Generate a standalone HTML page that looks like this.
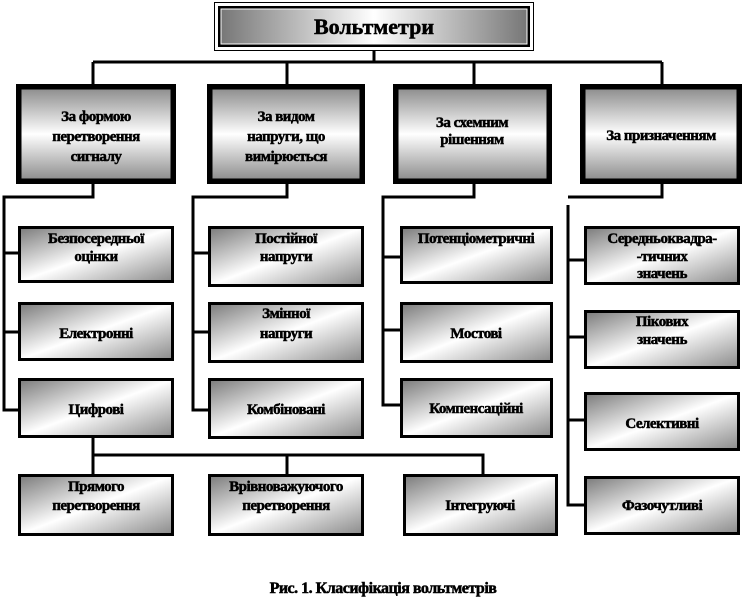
<!DOCTYPE html>
<html><head><meta charset="utf-8"><style>
html,body{margin:0;padding:0;background:#fff;width:744px;height:610px;overflow:hidden}
text{font-family:"Liberation Serif",serif;font-weight:bold;font-size:15px;fill:#000;stroke:#000;stroke-width:0.5;text-anchor:middle;letter-spacing:-0.5px}
</style></head><body>
<svg width="744" height="610" viewBox="0 0 744 610" xmlns="http://www.w3.org/2000/svg">
<defs>
<linearGradient id="g" x1="0" y1="0" x2="1" y2="1">
<stop offset="0" stop-color="#7a7a7a"/><stop offset="0.5" stop-color="#ffffff"/><stop offset="1" stop-color="#8a8a8a"/>
</linearGradient>
<linearGradient id="gc" x1="0" y1="0" x2="0" y2="1">
<stop offset="0" stop-color="#8a8a8a"/><stop offset="0.5" stop-color="#ffffff"/><stop offset="1" stop-color="#8a8a8a"/>
</linearGradient>
<linearGradient id="gt" x1="0" y1="0" x2="1" y2="0">
<stop offset="0" stop-color="#777"/><stop offset="0.5" stop-color="#fff"/><stop offset="1" stop-color="#777"/>
</linearGradient>
</defs>
<g stroke="#000" stroke-width="3" fill="none">
<line x1="374" y1="50" x2="374" y2="62"/>
<line x1="93" y1="62" x2="662" y2="62"/>
<line x1="93" y1="62" x2="93" y2="84"/><line x1="287" y1="62" x2="287" y2="84"/>
<line x1="474" y1="62" x2="474" y2="84"/><line x1="662" y1="62" x2="662" y2="84"/>
<polyline points="93,183 93,197 4,197 4,410 18,410"/>
<line x1="4" y1="253" x2="18" y2="253"/><line x1="4" y1="332" x2="18" y2="332"/>
<polyline points="287,183 287,197 193,197 193,410 208,410"/>
<line x1="193" y1="253" x2="208" y2="253"/><line x1="193" y1="332" x2="208" y2="332"/>
<polyline points="474,183 474,197 383,197 383,405 400,405"/>
<line x1="383" y1="257" x2="400" y2="257"/><line x1="383" y1="330" x2="400" y2="330"/>
<polyline points="662,183 662,197 568,197"/>
<polyline points="568,205 568,505 584,505"/>
<line x1="568" y1="260" x2="584" y2="260"/><line x1="568" y1="337" x2="584" y2="337"/><line x1="568" y1="420" x2="584" y2="420"/>
<line x1="93" y1="437" x2="93" y2="474"/>
<polyline points="93,455 483,455 483,474"/>
<line x1="287" y1="455" x2="287" y2="474"/>
</g>
<rect x="214.5" y="2.5" width="319" height="48" fill="#fff" stroke="#000" stroke-width="1"/>
<rect x="218" y="6" width="312" height="41" fill="#000"/>
<rect x="221" y="9" width="306" height="35" fill="url(#gt)" stroke="#fff" stroke-width="1"/>
<text x="374" y="34" style="font-size:22px;letter-spacing:0">Вольтметри</text>
<g>
<rect x="16.5" y="84.5" width="159" height="99" fill="#fff" stroke="#000"/>
<rect x="19" y="87" width="154" height="94" fill="url(#gc)" stroke="#000" stroke-width="5"/>
<rect x="207.5" y="84.5" width="157" height="99" fill="#fff" stroke="#000"/>
<rect x="210" y="87" width="152" height="94" fill="url(#gc)" stroke="#000" stroke-width="5"/>
<rect x="393.5" y="84.5" width="158" height="99" fill="#fff" stroke="#000"/>
<rect x="396" y="87" width="153" height="94" fill="url(#gc)" stroke="#000" stroke-width="5"/>
<rect x="580.5" y="84.5" width="161" height="99" fill="#fff" stroke="#000"/>
<rect x="583" y="87" width="156" height="94" fill="url(#gc)" stroke="#000" stroke-width="5"/>
</g>
<text x="96" y="121">За формою</text><text x="96" y="141">перетворення</text><text x="96" y="161">сигналу</text>
<text x="286" y="121">За видом</text><text x="286" y="141">напруги, що</text><text x="286" y="161">вимірюється</text>
<text x="472" y="127">За схемним</text><text x="472" y="144">рішенням</text>
<text x="661" y="140">За призначенням</text>
<g fill="url(#g)" stroke="#000" stroke-width="3">
<rect x="19.5" y="227.5" width="153" height="54"/>
<rect x="19.5" y="303.5" width="153" height="56"/>
<rect x="19.5" y="379.5" width="153" height="57"/>
<rect x="209.5" y="227.5" width="153" height="58"/>
<rect x="209.5" y="303.5" width="153" height="58"/>
<rect x="209.5" y="379.5" width="153" height="58"/>
<rect x="401.5" y="227.5" width="150" height="55"/>
<rect x="401.5" y="303.5" width="150" height="58"/>
<rect x="401.5" y="379.5" width="150" height="57"/>
<rect x="585.5" y="227.5" width="153" height="56"/>
<rect x="585.5" y="311.5" width="153" height="56"/>
<rect x="585.5" y="393.5" width="153" height="56"/>
<rect x="585.5" y="477.5" width="153" height="56"/>
<rect x="19.5" y="475.5" width="153" height="59"/>
<rect x="209.5" y="475.5" width="153" height="59"/>
<rect x="404.5" y="475.5" width="152" height="59"/>
</g>
<text x="96" y="243">Безпосередньої</text><text x="96" y="261">оцінки</text>
<text x="96" y="338">Електронні</text>
<text x="96" y="414">Цифрові</text>
<text x="286" y="243">Постійної</text><text x="286" y="261">напруги</text>
<text x="286" y="318">Змінної</text><text x="286" y="338">напруги</text>
<text x="286" y="414">Комбіновані</text>
<text x="476" y="243">Потенціометричні</text>
<text x="476" y="338">Мостові</text>
<text x="476" y="413">Компенсаційні</text>
<text x="662" y="243">Середньоквадра-</text><text x="662" y="261">-тичних</text><text x="662" y="278">значень</text>
<text x="662" y="326">Пікових</text><text x="662" y="344">значень</text>
<text x="662" y="428">Селективні</text>
<text x="662" y="510">Фазочутливі</text>
<text x="96" y="491">Прямого</text><text x="96" y="510">перетворення</text>
<text x="286" y="491">Врівноважуючого</text><text x="286" y="510">перетворення</text>
<text x="480" y="510">Інтегруючі</text>
<text x="383" y="593" style="font-size:16px">Рис. 1. Класифікація  вольтметрів</text>
</svg>
</body></html>
